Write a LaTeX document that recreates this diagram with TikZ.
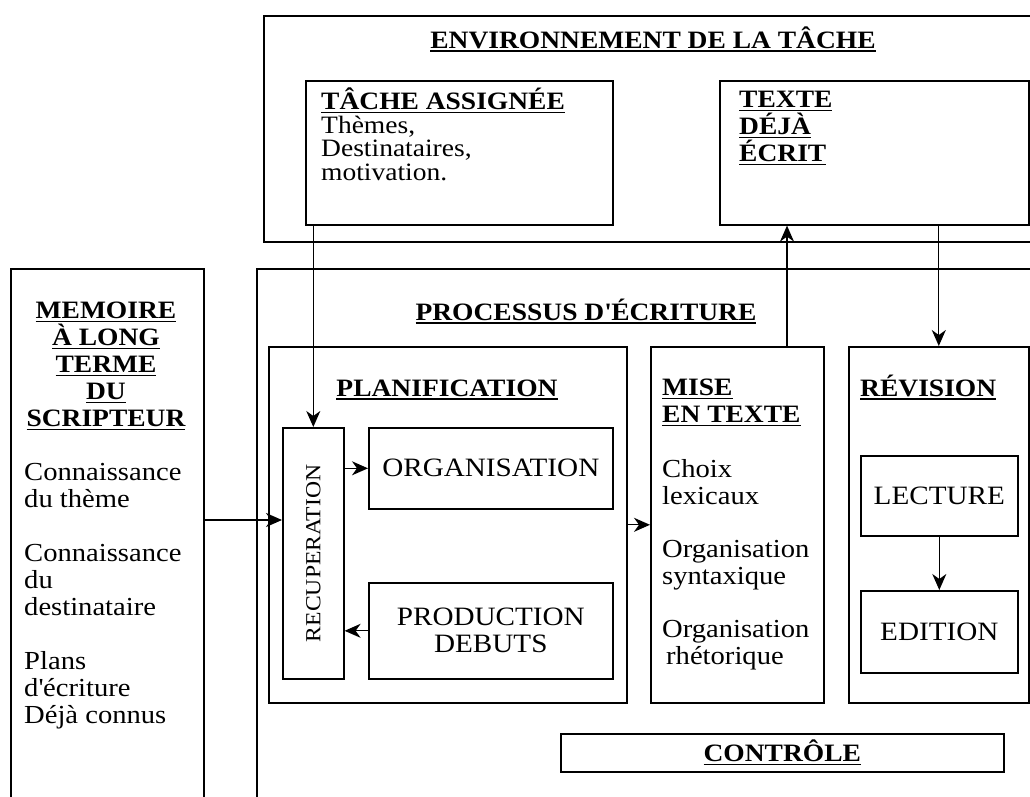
\documentclass[tikz,border=0pt]{standalone}
\usepackage{fontspec}
\setmainfont{Liberation Serif}[FakeStretch=1.1]
\usetikzlibrary{arrows.meta}
\newsavebox\hdbox
\newcommand\hd[1]{\sbox\hdbox{\bfseries #1}\rlap{\rule[-3.5pt]{\wd\hdbox}{1.3pt}}\usebox\hdbox}

\begin{document}
\begin{tikzpicture}[x=1pt, y=-1pt, font=\fontsize{25}{27}\selectfont,
    >={Stealth[length=16pt,width=14pt,inset=5pt]},
    box/.style={draw, line width=1.6pt, inner sep=0pt, anchor=north west},
    txt/.style={inner sep=0pt, align=left, anchor=north west},
    caps/.style={inner sep=0pt, font=\fontsize{26.5}{27}\selectfont},
    link/.style={->, line width=1.3pt}]
    \useasboundingbox (0,0) rectangle (1030,796);

    \node[box, minimum width=790pt, minimum height=226pt] (env) at (263,15) {};
    \node[box, minimum width=307pt, minimum height=144pt] (tache) at (305,80) {};
    \node[box, minimum width=309pt, minimum height=144pt] (texte) at (719,80) {};
    \node[box, minimum width=193pt, minimum height=547pt] (memoire) at (10,268) {};
    \node[box, minimum width=797pt, minimum height=547pt] (proc) at (256,268) {};
    \node[box, minimum width=358pt, minimum height=356pt] (planif) at (268,346) {};
    \node[box, minimum width=61pt, minimum height=251pt] (recup) at (282,427) {};
    \node[box, minimum width=244pt, minimum height=81pt] (org) at (368,427) {};
    \node[box, minimum width=244pt, minimum height=96pt] (prod) at (368,582) {};
    \node[box, minimum width=173pt, minimum height=356pt] (mise) at (650,346) {};
    \node[box, minimum width=180pt, minimum height=356pt] (revision) at (848,346) {};
    \node[box, minimum width=157pt, minimum height=80pt] (lecture) at (860,455) {};
    \node[box, minimum width=157pt, minimum height=82pt] (edition) at (860,590) {};
    \node[box, minimum width=443pt, minimum height=38pt] (controle) at (560,733) {};

    \node[inner sep=0pt, anchor=base] (envtitre) at (653,48) {\hd{ENVIRONNEMENT DE LA TÂCHE}};
    \node[txt, font=\fontsize{25}{23.5}\selectfont] (tachetxt) at (321,88)
        {\hd{TÂCHE ASSIGNÉE}\\Thèmes,\\Destinataires,\\motivation.};
    \node[txt] (textetxt) at (739,91) {\hd{TEXTE}\\\hd{DÉJÀ}\\\hd{ÉCRIT}};

    \node[txt, align=center, anchor=north] (memtitre) at (106,302)
        {\hd{MEMOIRE}\\\hd{À LONG}\\\hd{TERME}\\\hd{DU}\\\hd{SCRIPTEUR}};
    \node[txt, font=\fontsize{26}{27}\selectfont] (memtxt) at (24,463)
        {Connaissance\\du thème\\[27pt]Connaissance\\du\\destinataire\\[27pt]Plans\\d\textquotesingle écriture\\Déjà connus};

    \node[inner sep=0pt, anchor=base] (proctitre) at (586,320) {\hd{PROCESSUS D\textquotesingle ÉCRITURE}};
    \node[inner sep=0pt, anchor=base] (planiftitre) at (447,396) {\hd{PLANIFICATION}};
    \node[inner sep=0pt, rotate=90, font=\fontsize{21.5}{22}\selectfont] (recuptxt) at (recup.center) {RECUPERATION};
    \node[caps] (orgtxt) at (org.center) {ORGANISATION};
    \node[caps, align=center] (prodtxt) at (prod.center) {PRODUCTION\\DEBUTS};

    \node[txt] (misetitre) at (662,379) {\hd{MISE}\\\hd{EN TEXTE}};
    \node[txt, font=\fontsize{26}{27}\selectfont] (misetxt) at (662,459)
        {Choix\\lexicaux\\[26pt]Organisation\\syntaxique\\[26pt]Organisation\\\hspace{4pt}rhétorique};

    \node[inner sep=0pt, anchor=base west] (revtitre) at (860,396) {\hd{RÉVISION}};
    \node[caps] (lecturetxt) at (lecture.center) {LECTURE};
    \node[caps] (editiontxt) at (edition.center) {EDITION};
    \node[inner sep=0pt] (controletxt) at (controle.center) {\hd{CONTRÔLE}};

    \coordinate (mout) at (203,520);
    \coordinate (mtop) at (787,346);
    \draw[link] (recup.north |- tache.south) -- (recup.north);
    \draw[link] (mout) -- (recup.west |- mout);
    \draw[link] (recup.east |- org.west) -- (org.west);
    \draw[link] (prod.west) -- (recup.east |- prod.west);
    \draw[link] (planif.east) -- (mise.west |- planif.east);
    \draw[link] (mtop) -- (texte.south -| mtop);
    \draw[link] (revision.north |- texte.south) -- (revision.north);
    \draw[link] (lecture.south) -- (edition.north);
\end{tikzpicture}
\end{document}
